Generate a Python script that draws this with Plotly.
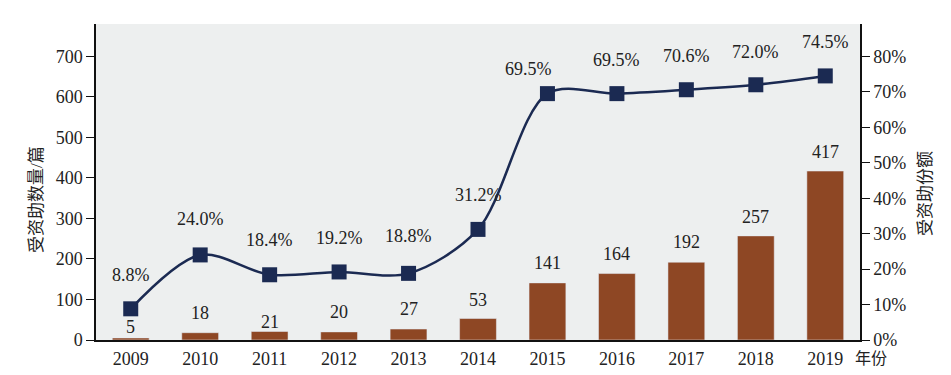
import plotly.graph_objects as go

years = ["2009", "2010", "2011", "2012", "2013", "2014", "2015", "2016", "2017", "2018", "2019"]
counts = [5, 18, 21, 20, 27, 53, 141, 164, 192, 257, 417]
shares = [8.8, 24.0, 18.4, 19.2, 18.8, 31.2, 69.5, 69.5, 70.6, 72.0, 74.5]
share_labels = ["8.8%", "24.0%", "18.4%", "19.2%", "18.8%", "31.2%", "69.5%", "69.5%", "70.6%", "72.0%", "74.5%"]

# label offsets (styling)
bar_label_shift = [11, 20, 9, 20, 20, 19, 20, 20, 20, 19, 19]
share_label_shift = [34, 36, 35, 34, 37, 34, 25, 34, 34, 33, 34]
share_label_xshift = [0, 0, 0, 0, 0, 0, -19, 0, 0, 0, 0]

BAR = "#8E4724"
LINE = "#1B2A52"
TXT = "#222222"
FONT = "Liberation Serif, Noto Sans CJK SC, serif"
FS = 18

fig = go.Figure()
fig.add_trace(go.Bar(x=years, y=counts, marker_color=BAR, width=0.53, yaxis="y", hoverinfo="skip"))
fig.add_trace(go.Scatter(x=years, y=shares, yaxis="y2", mode="lines+markers",
                         line=dict(color=LINE, width=2.5, shape="spline", smoothing=0.9),
                         marker=dict(symbol="square", size=15, color=LINE)))

annotations = []
for i, c in enumerate(counts):
    annotations.append(dict(x=i, y=c, xref="x", yref="y", text=str(c), showarrow=False,
                            yshift=bar_label_shift[i], font=dict(size=FS, color=TXT, family=FONT)))
for i, s in enumerate(shares):
    annotations.append(dict(x=i, y=s, xref="x", yref="y2", text=share_labels[i], showarrow=False,
                            yshift=share_label_shift[i], xshift=share_label_xshift[i],
                            font=dict(size=FS, color=TXT, family=FONT)))
pix = [
    dict(x=36, y=200, text="受资助数量/篇", textangle=-90, size=17),
    dict(x=925, y=193, text="受资助份额", textangle=-90, size=17),
    dict(x=871, y=358, text="年份", textangle=0, size=16),
]

W, H = 951, 375
L, R, T, B = 96, 91, 24, 35
pw, ph = W - L - R, H - T - B
for a in pix:
    annotations.append(dict(x=(a["x"] - L) / pw, y=(H - B - a["y"]) / ph, xref="paper", yref="paper",
                            xanchor="center", yanchor="middle", text=a["text"], textangle=a["textangle"],
                            showarrow=False, font=dict(size=a["size"], color=TXT, family=FONT)))

fig.update_layout(
    width=W, height=H,
    margin=dict(l=L, r=R, t=T, b=B, autoexpand=False),
    paper_bgcolor="white",
    plot_bgcolor="#EDEFEF",
    showlegend=False,
    font=dict(family=FONT, size=FS, color=TXT),
    xaxis=dict(type="category", range=[-0.5, 10.5], showline=True, linecolor="#111", linewidth=1.5,
               ticks="", showgrid=False, tickfont=dict(size=FS, color=TXT), fixedrange=True,
               ticklabelstandoff=2),
    yaxis=dict(range=[0, 780], tickvals=[0, 100, 200, 300, 400, 500, 600, 700], showgrid=False,
               showline=True, linecolor="#111", linewidth=1.5, ticks="outside", ticklen=8,
               tickcolor="#111", zeroline=False, tickfont=dict(size=FS, color=TXT)),
    yaxis2=dict(range=[0, 780 / 8.75], overlaying="y", side="right", showgrid=False,
                tickvals=[0, 10, 20, 30, 40, 50, 60, 70, 80],
                ticktext=["0%", "10%", "20%", "30%", "40%", "50%", "60%", "70%", "80%"],
                showline=True, linecolor="#111", linewidth=1.5, ticks="outside", ticklen=8,
                tickcolor="#111", zeroline=False, tickfont=dict(size=FS, color=TXT)),
    annotations=annotations,
)

fig.write_html("out.html", config={"displayModeBar": False},
               post_script="document.body.style.margin='0';")
